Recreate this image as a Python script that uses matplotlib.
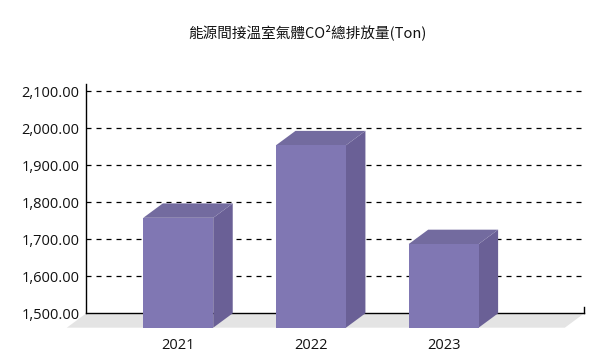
import matplotlib
matplotlib.use("Agg")
import matplotlib.pyplot as plt
from matplotlib.patches import Polygon, Rectangle
from matplotlib.ticker import FuncFormatter

title = "能源間接溫室氣體CO²總排放量(Ton)"
years = ["2021", "2022", "2023"]
values = [1797, 1993, 1726]
y_ticks = [1500, 1600, 1700, 1800, 1900, 2000, 2100]

FRONT = "#8077b3"
SIDE = "#6a6096"
TOP = "#736b9f"
FLOOR = "#e4e4e4"

W, H, DPI = 600, 360, 100
fig = plt.figure(figsize=(W / DPI, H / DPI), dpi=DPI)
plt.rcParams['font.family'] = ['Open Sans', 'Noto Sans CJK TC', 'DejaVu Sans']

L, R, B, T = 86.3, 584.3, 313.3, 84.0
ax = fig.add_axes([L / W, 1 - B / H, (R - L) / W, (B - T) / H])
ymin, ymax = 1500, 2119.7
xmin, xmax = -0.84, 2.913
ax.set_xlim(xmin, xmax)
ax.set_ylim(ymin, ymax)

# depth offset (pixels -> data units)
dpx, dpy = 19.5, 14.4
ddx = dpx * (xmax - xmin) / (R - L)
ddy = dpy * (ymax - ymin) / (B - T)
bw = 0.527

# floor
floor = Polygon([(xmin, ymin), (xmax, ymin), (xmax - ddx, ymin - ddy), (xmin - ddx, ymin - ddy)],
                closed=True, facecolor=FLOOR, edgecolor='none', clip_on=False, zorder=0.5)
ax.add_patch(floor)

# grid
for yv in y_ticks[1:]:
    ax.axhline(yv, color='black', lw=0.9, ls=(0, (4, 4)), zorder=1)

for i, v in enumerate(values):
    x0, x1 = i - bw / 2, i + bw / 2
    # side face
    ax.add_patch(Polygon([(x1 - ddx, ymin - ddy), (x1, ymin), (x1, v), (x1 - ddx, v - ddy)],
                         closed=True, facecolor=SIDE, edgecolor='none', clip_on=False, zorder=3))
    # top face
    ax.add_patch(Polygon([(x0 - ddx, v - ddy), (x0, v), (x1, v), (x1 - ddx, v - ddy)],
                         closed=True, facecolor=TOP, edgecolor='none', clip_on=False, zorder=3))
    # front face
    ax.add_patch(Rectangle((x0 - ddx, ymin - ddy), bw, v - ymin,
                           facecolor=FRONT, edgecolor='none', clip_on=False, zorder=4))

for s in ['top', 'right']:
    ax.spines[s].set_visible(False)
for s in ['left', 'bottom']:
    ax.spines[s].set_color('black')
    ax.spines[s].set_linewidth(1.0)
    ax.spines[s].set_zorder(2)

ax.set_yticks(y_ticks)
ax.yaxis.set_major_formatter(FuncFormatter(lambda v, p: f"{v:,.2f}"))
ax.tick_params(axis='y', length=0, pad=5, labelsize=10.5, labelcolor='#111111')

ax.set_xticks([i - ddx for i in range(len(years))])
ax.set_xticklabels(years)
ax.tick_params(axis='x', length=0, pad=18, labelsize=10.5, labelcolor='#111111')

# small end tick on category axis
ax.plot([1, 1], [0, 6.5 / (B - T)], transform=ax.transAxes, color='black', lw=1.0, clip_on=False)

fig.text(307 / W, 1 - 32 / H, title, ha='center', va='center', fontsize=10.5,
         family=['Noto Sans CJK TC', 'DejaVu Sans'], color='#111111')

fig.savefig("out.png", dpi=DPI)
